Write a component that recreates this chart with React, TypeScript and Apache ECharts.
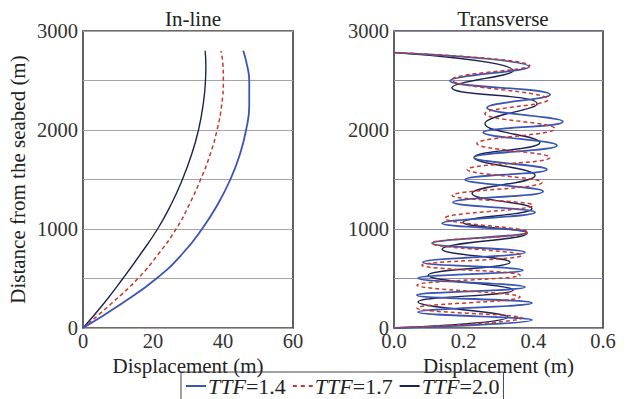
import React, { useEffect, useRef } from "react";
import * as echarts from "echarts";

// In-line: heights (m) and displacement (m)
const inlineHeights = [0, 250, 500, 750, 1000, 1250, 1500, 1750, 2000, 2250, 2500, 2650, 2800];
const inline14 = [0, 11.2, 21, 28.4, 34.0, 38.5, 42.1, 44.8, 46.6, 47.5, 47.5, 46.9, 45.8];
const inline17 = [0, 8.2, 15.7, 21.6, 26.6, 30.4, 33.6, 36.3, 38.3, 39.6, 40.1, 40.0, 39.4];
const inline20 = [0, 6, 11.4, 16.5, 21.3, 25.2, 28.4, 31.0, 33.0, 34.3, 35.0, 35.1, 34.9];

// Transverse: [displacement (m), height (m)]
const trans14: [number, number][] = [
  [0, 0], [0.396, 81], [0.069, 161], [0.396, 252], [0.066, 332], [0.376, 413], [0.069, 503],
  [0.37, 584], [0.083, 665], [0.376, 765], [0.109, 856], [0.382, 967], [0.138, 1057],
  [0.405, 1168], [0.169, 1269], [0.428, 1380], [0.204, 1500], [0.439, 1601], [0.23, 1722],
  [0.468, 1843], [0.256, 1974], [0.485, 2084], [0.267, 2225], [0.448, 2356], [0.161, 2497],
  [0.388, 2638], [0, 2782],
];
const trans17: [number, number][] = [
  [0, 0], [0.367, 101], [0.066, 201], [0.362, 312], [0.066, 433], [0.362, 534], [0.08, 634],
  [0.367, 735], [0.109, 856], [0.385, 967], [0.146, 1108], [0.399, 1239], [0.167, 1339],
  [0.425, 1470], [0.21, 1601], [0.448, 1722], [0.238, 1863], [0.462, 2014], [0.261, 2165],
  [0.442, 2306], [0.166, 2507], [0.39, 2648], [0, 2782],
];
const trans20: [number, number][] = [
  [0, 0], [0.327, 111], [0.069, 262], [0.342, 383], [0.098, 534], [0.333, 665], [0.138, 796],
  [0.382, 957], [0.198, 1067], [0.396, 1208], [0.224, 1359], [0.405, 1541], [0.23, 1722],
  [0.419, 1873], [0.261, 2064], [0.411, 2266], [0.166, 2427], [0.342, 2598], [0, 2782],
];

const seriesNames = ["TTF=1.4", "TTF=1.7", "TTF=2.0"];
const colors = ["#3a56b5", "#c7392a", "#1d2352"];
const yTicks = [0, 1000, 2000, 3000];

const FONT = "Liberation Serif";
const FS = 20.5;
const FN = 21;
const FL = 22;

const SOLID_ICON = "path://M0,0h20v2h-20z";
const DASH_ICON = "path://M0,0h4v2h-4zM8,0h4v2h-4zM16,0h4v2h-4z";

export default function App() {
  const ref = useRef<HTMLDivElement>(null);
  useEffect(() => {
    document.body.style.margin = "0";
    if (!ref.current) return;
    const chart = echarts.init(ref.current, null, { renderer: "svg" });
    const lineStyles = [
      { color: colors[0], width: 1.8, type: "solid" as const },
      { color: colors[1], width: 1.5, type: [4, 3] as any },
      { color: colors[2], width: 1.4, type: "solid" as const },
    ];
    const inlineSets = [inline14, inline17, inline20];
    const transSets = [trans14, trans17, trans20];
    const yAxisCommon = (gridIndex: number, name: string, splitColor: string) => ({
      type: "value" as const,
      gridIndex,
      min: 0,
      max: 3000,
      interval: 500,
      name,
      nameLocation: "middle" as const,
      nameGap: 55,
      nameRotate: 90,
      nameTextStyle: { fontFamily: FONT, fontSize: FN, color: "#222" },
      axisLine: { show: false },
      axisTick: { show: false },
      axisLabel: {
        fontFamily: FONT,
        fontSize: FS,
        color: "#333",
        margin: 5,
        formatter: (v: number) => (yTicks.includes(v) ? String(v) : ""),
      },
      splitLine: { show: true, lineStyle: { color: splitColor, width: 1.2 } },
    });
    const xAxisCommon = (gridIndex: number, max: number, interval: number, digits: number) => ({
      type: "value" as const,
      gridIndex,
      min: 0,
      max,
      interval,
      name: "Displacement (m)",
      nameLocation: "middle" as const,
      nameGap: 16,
      nameTextStyle: { fontFamily: FONT, fontSize: FN, color: "#222", lineHeight: 20 },
      axisLine: { show: false },
      axisTick: { show: false },
      splitLine: { show: false },
      axisLabel: {
        fontFamily: FONT,
        fontSize: FS,
        color: "#333",
        margin: 2,
        formatter: (v: number) => v.toFixed(digits),
      },
    });
    const series: any[] = [];
    seriesNames.forEach((name, i) => {
      series.push({
        type: "line",
        name,
        xAxisIndex: 0,
        yAxisIndex: 0,
        data: inlineHeights.map((h, k) => [inlineSets[i][k], h]),
        smooth: true,
        symbol: "none",
        lineStyle: lineStyles[i],
        itemStyle: { color: colors[i] },
        z: 3 - i,
      });
    });
    seriesNames.forEach((name, i) => {
      series.push({
        type: "line",
        name,
        xAxisIndex: 1,
        yAxisIndex: 1,
        data: transSets[i],
        smooth: 0.45,
        symbol: "none",
        lineStyle: lineStyles[i],
        itemStyle: { color: colors[i] },
        z: i === 1 ? 4 : 3 - i,
      });
    });
    chart.setOption({
      animation: false,
      backgroundColor: "#fff",
      title: [
        {
          text: "In-line",
          left: 188,
          top: 3,
          textAlign: "center",
          textStyle: { fontFamily: FONT, fontSize: FN, fontWeight: "normal", color: "#222" },
        },
        {
          text: "Transverse",
          left: 498,
          top: 3,
          textAlign: "center",
          textStyle: { fontFamily: FONT, fontSize: FN, fontWeight: "normal", color: "#222" },
        },
      ],
      grid: [
        { left: 83, top: 31, width: 210, height: 297, show: true, borderColor: "#3a3a3a", borderWidth: 1.6, backgroundColor: "transparent" },
        { left: 394, top: 31, width: 209, height: 297, show: true, borderColor: "#3a3a3a", borderWidth: 1.6, backgroundColor: "transparent" },
      ],
      xAxis: [xAxisCommon(0, 60, 20, 0), xAxisCommon(1, 0.6, 0.2, 1)],
      yAxis: [
        yAxisCommon(0, "Distance from the seabed (m)", "#aaa49c"),
        yAxisCommon(1, "", "#8e8ea8"),
      ],
      legend: {
        left: 181,
        top: 372,
        orient: "horizontal",
        padding: [3, 4, 8, 5],
        itemGap: 7,
        itemWidth: 20,
        itemHeight: 2,
        borderColor: "#444",
        borderWidth: 1,
        data: [
          { name: seriesNames[0], icon: SOLID_ICON },
          { name: seriesNames[1], icon: DASH_ICON },
          { name: seriesNames[2], icon: SOLID_ICON },
        ],
        formatter: (name: string) => `{i|TTF}=${name.split("=")[1]}`,
        textStyle: {
          fontFamily: FONT,
          fontSize: FL,
          color: "#222",
          lineHeight: 22,
          padding: [0, 0, 0, -3],
          rich: {
            i: { fontFamily: FONT, fontSize: FL, fontStyle: "italic", color: "#222", lineHeight: 22 },
          },
        },
      },
      series,
    });
    return () => chart.dispose();
  }, []);
  return <div ref={ref} style={{ width: 629, height: 399 }} />;
}
